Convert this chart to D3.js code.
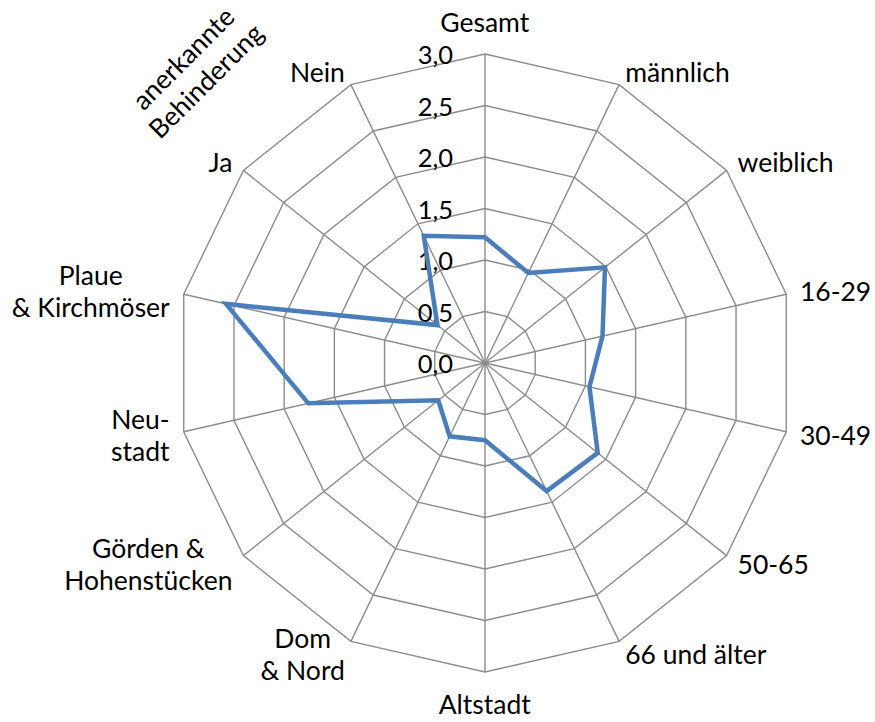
<!DOCTYPE html>
<html>
<head>
<meta charset="utf-8">
<script src="https://cdn.jsdelivr.net/npm/d3@7"></script>
<style>
  body { margin: 0; background: #fff; }
  text { font-family: Lato, "Open Sans", sans-serif; fill: #000; }
</style>
</head>
<body>
<div id="chart"></div>
<script>
// categories (multi-line labels split on '|')
const categories = ['Gesamt', 'männlich', 'weiblich', '16-29', '30-49', '50-65',
  '66 und älter', 'Altstadt', 'Dom|& Nord', 'Görden &|Hohenstücken', 'Neu-|stadt',
  'Plaue|& Kirchmöser', 'Ja', 'Nein'];
const values = [1.22, 0.97, 1.49, 1.17, 1.04, 1.40, 1.38, 0.75, 0.79, 0.58, 1.76,
  2.58, 0.59, 1.37];
const ticks = [0, 0.5, 1.0, 1.5, 2.0, 2.5, 3.0];
const groupLabel = ['anerkannte', 'Behinderung'];

const totalWidth = 875;
const totalHeight = 722;
const cx = 485;
const cy = 363;
const radius = 309;
const fontSize = 26.5;
const tickFontSize = 25.5;
const lineHeight = 32;

const n = categories.length;
const angle = function(i) {
  return i * 2 * Math.PI / n;
};

let r = d3.scaleLinear().domain([0, 3]).range([0, radius]);
let fmt = function(v) {
  return d3.format('.1f')(v).replace('.', ',');
};

let svg = d3.select('#chart').append('svg')
    .attr('width', totalWidth)
    .attr('height', totalHeight);

let g = svg.append('g')
    .attr('transform', 'translate(' + cx + ',' + cy + ')');

// grid rings
let ring = d3.lineRadial()
    .angle(function(d, i) { return angle(i); })
    .radius(function(d) { return r(d); })
    .curve(d3.curveLinearClosed);

g.selectAll('.ring').data(ticks.filter(function(t) { return t > 0; }))
  .enter().append('path')
    .attr('class', 'ring')
    .attr('d', function(t) { return ring(categories.map(function() { return t; })); })
    .attr('fill', 'none')
    .attr('stroke', '#8c8c8c')
    .attr('stroke-width', 1.4);

// spokes
g.selectAll('.spoke').data(categories)
  .enter().append('line')
    .attr('class', 'spoke')
    .attr('x1', 0).attr('y1', 0)
    .attr('x2', function(d, i) { return r(3) * Math.sin(angle(i)); })
    .attr('y2', function(d, i) { return -r(3) * Math.cos(angle(i)); })
    .attr('stroke', '#8c8c8c')
    .attr('stroke-width', 1.4);

// tick labels
g.selectAll('.tick').data(ticks)
  .enter().append('text')
    .attr('class', 'tick')
    .attr('x', -32)
    .attr('y', function(t) { return -r(t); })
    .attr('dy', '0.4em')
    .attr('text-anchor', 'end')
    .style('font-size', tickFontSize + 'px')
    .text(fmt);

// data line
let line = d3.lineRadial()
    .angle(function(d, i) { return angle(i); })
    .radius(function(d) { return r(d); })
    .curve(d3.curveLinearClosed);

g.append('path')
    .datum(values)
    .attr('d', line)
    .attr('fill', 'none')
    .attr('stroke', '#4a7ebb')
    .attr('stroke-width', 4.5)
    .attr('stroke-linejoin', 'miter');

// category labels
let labels = g.selectAll('.cat').data(categories)
  .enter().append('g')
    .attr('class', 'cat');

labels.each(function(d, i) {
  let lg = d3.select(this);
  let parts = d.split('|');
  let t = lg.append('text')
      .attr('text-anchor', 'middle')
      .style('font-size', fontSize + 'px');
  parts.forEach(function(p, k) {
    t.append('tspan')
        .attr('x', 0)
        .attr('y', k * lineHeight)
        .text(p);
  });
  let bb = t.node().getBBox();
  let a = angle(i);
  let s = Math.sin(a);
  let c = Math.cos(a);
  let px = (r(3) + 14) * s;
  let py = -(r(3) + 14) * c;
  let bx;
  let by;
  if (Math.abs(s) < 0.1) {
    bx = px - bb.width / 2;
    by = py - c * (bb.height / 2 + 2) - bb.height / 2;
  } else {
    bx = s > 0 ? px : px - bb.width;
    by = py - bb.height / 2;
  }
  lg.attr('transform', 'translate(' + (bx - bb.x) + ',' + (by - bb.y) + ')');
});

// group label for disability axes
svg.append('text')
    .attr('transform', 'translate(195,70) rotate(-45)')
    .attr('text-anchor', 'middle')
    .style('font-size', fontSize + 'px')
  .selectAll('tspan').data(groupLabel)
  .enter().append('tspan')
    .attr('x', 0)
    .attr('y', function(d, i) { return (i - 0.5) * lineHeight + 9; })
    .text(function(d) { return d; });
</script>
</body>
</html>
